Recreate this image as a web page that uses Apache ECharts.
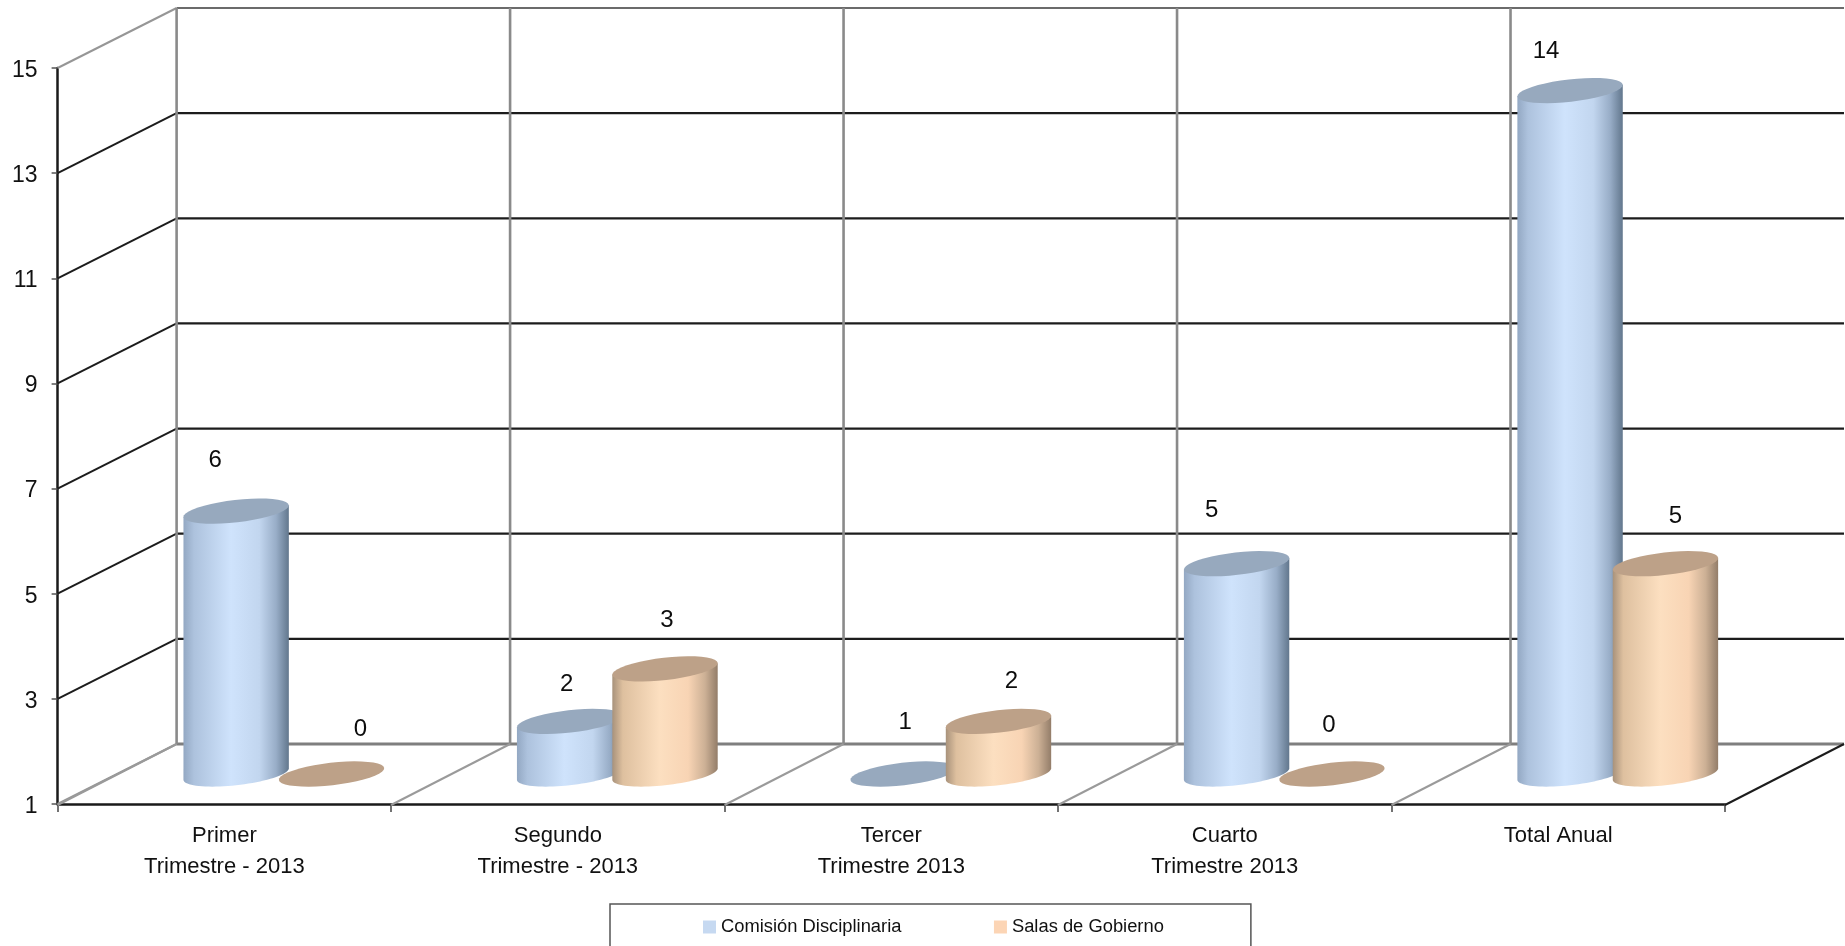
<!DOCTYPE html>
<html>
<head>
<meta charset="utf-8">
<style>html,body{margin:0;padding:0;background:#fff;overflow:hidden}#c{width:1845px;height:946px}</style>
<script src="https://cdn.jsdelivr.net/npm/echarts@6/dist/echarts.min.js"></script>
</head>
<body>
<div id="c"></div>
<script>
const categories = ['Primer\nTrimestre - 2013', 'Segundo\nTrimestre - 2013', 'Tercer\nTrimestre 2013', 'Cuarto\nTrimestre 2013', 'Total Anual'];
const comision = [6, 2, 1, 5, 14];
const salas = [0, 3, 2, 0, 5];
const yTicks = [1, 3, 5, 7, 9, 11, 13, 15];

// Presentation constants
const AXIS_MIN = 1, AXIS_MAX = 15;
const DEPTH = [119, -60];         // 3D depth of the floor in px
const BAR_FRACTION = 0.316;       // bar width / band width
const BAR_SHIFT = 0.143;          // bar centre offset / band width
const TILT = 6.5 * Math.PI / 180, MINOR = 11.2;
const FONT = '"Liberation Sans", Arial, sans-serif';
const labelNudgeA = [[-21, -51], [-3, -37], [2, -52], [-25, -53], [-24, -39]];
const labelNudgeB = [[29, -45], [2, -48], [13, -40], [-3, -49], [10, -47]];
const styleA = {
  top: '#97a9be',
  stops: [[0, '#93a8c3'], [0.1, '#adc2dd'], [0.45, '#cfe3fc'], [0.72, '#c2d6ef'], [0.88, '#98adc7'], [1, '#62778d']]
};
const styleB = {
  top: '#bda188',
  stops: [[0, '#a8927b'], [0.1, '#dec09f'], [0.45, '#fcdfc0'], [0.72, '#f8d4b4'], [0.88, '#ccb095'], [1, '#937d69']]
};

function ellipsePt(cx, cy, a, b, t) {
  return [
    cx + a * Math.cos(t) * Math.cos(TILT) + b * Math.sin(t) * Math.sin(TILT),
    cy - a * Math.cos(t) * Math.sin(TILT) + b * Math.sin(t) * Math.cos(TILT)
  ];
}
function arc(cx, cy, a, b, t0, t1) {
  const pts = [];
  for (let i = 0; i <= 40; i++) pts.push(ellipsePt(cx, cy, a, b, t0 + (t1 - t0) * i / 40));
  return pts;
}

function cylinder(sign, style, nudges) {
  return function (params, api) {
    const idx = api.value(0), v = api.value(1);
    const band = api.size([1, 0])[0];
    const base = api.coord([idx, AXIS_MIN]);
    const top = api.coord([idx, Math.max(v, AXIS_MIN)]);
    const cx = base[0] + sign * band * BAR_SHIFT + DEPTH[0] / 2;
    const cyB = base[1] + DEPTH[1] / 2;
    const cyT = top[1] + DEPTH[1] / 2;
    const halfW = band * BAR_FRACTION / 2;
    const a = Math.sqrt(Math.max(1, halfW * halfW - Math.pow(MINOR * Math.sin(TILT), 2))) / Math.cos(TILT);
    const t0 = Math.atan((MINOR / a) * Math.tan(TILT));
    const children = [];
    if (cyB - cyT > 0.5) {
      const lower = arc(cx, cyB, a, MINOR, t0, t0 + Math.PI);
      const leftTop = ellipsePt(cx, cyT, a, MINOR, t0 + Math.PI);
      const rightTop = ellipsePt(cx, cyT, a, MINOR, t0);
      children.push({
        type: 'polygon',
        shape: { points: lower.concat([leftTop, rightTop]) },
        style: {
          fill: {
            type: 'linear', x: 0, y: 0, x2: 1, y2: 0,
            colorStops: style.stops.map(s => ({ offset: s[0], color: s[1] }))
          }
        }
      });
    }
    children.push({
      type: 'polygon',
      shape: { points: arc(cx, cyT, a, MINOR, 0, Math.PI * 2) },
      style: { fill: style.top }
    });
    const n = nudges[idx];
    children.push({
      type: 'text',
      style: {
        text: String(v), x: cx + n[0], y: cyT + n[1],
        fill: '#0d0d0d', font: '24px ' + FONT, align: 'center', verticalAlign: 'middle'
      }
    });
    return { type: 'group', children };
  };
}

function wallHorizontal(params, api) {
  const v = api.value(1);
  const band = api.size([1, 0])[0];
  const c0 = api.coord([0, v]), c1 = api.coord([categories.length - 1, v]);
  const x0 = c0[0] - band / 2, x1 = c1[0] + band / 2, y = c0[1];
  const isFloor = v === AXIS_MIN, isTop = v === AXIS_MAX;
  const back = isFloor ? { stroke: '#7f7f7f', lineWidth: 3 } : isTop ? { stroke: '#6b6b6b', lineWidth: 2 } : { stroke: '#1c1c1c', lineWidth: 2.2 };
  const side = isFloor || isTop ? { stroke: '#969696', lineWidth: 2 } : { stroke: '#1c1c1c', lineWidth: 2 };
  const children = [
    { type: 'line', shape: { x1: x0 + DEPTH[0], y1: y + DEPTH[1], x2: x1 + DEPTH[0], y2: y + DEPTH[1] }, style: back },
    { type: 'line', shape: { x1: x0, y1: y, x2: x0 + DEPTH[0], y2: y + DEPTH[1] }, style: side }
  ];
  return { type: 'group', children };
}

function wallVertical(params, api) {
  const i = api.value(0);
  const band = api.size([1, 0])[0];
  const bottom = api.coord([i, AXIS_MIN]), top = api.coord([i, AXIS_MAX]);
  const x = bottom[0] - band / 2;
  const children = [
    { type: 'line', shape: { x1: x + DEPTH[0], y1: bottom[1] + DEPTH[1], x2: x + DEPTH[0], y2: top[1] + DEPTH[1] }, style: { stroke: '#8a8a8a', lineWidth: 2.6 } },
    { type: 'line', shape: { x1: x, y1: bottom[1] + 1, x2: x + DEPTH[0], y2: bottom[1] + DEPTH[1] }, style: { stroke: '#9a9a9a', lineWidth: 2 } }
  ];
  if (i === categories.length - 1) {
    children.push({ type: 'line', shape: { x1: x + band, y1: bottom[1] + 1, x2: x + band + DEPTH[0], y2: bottom[1] + DEPTH[1] }, style: { stroke: '#1c1c1c', lineWidth: 2 } });
  }
  return { type: 'group', children };
}

const chart = echarts.init(document.getElementById('c'), null, { renderer: 'canvas' });
chart.setOption({
  animation: false,
  backgroundColor: '#fff',
  grid: { left: 57.6, right: 120, top: 68, bottom: 142, containLabel: false },
  xAxis: {
    type: 'category',
    data: categories,
    boundaryGap: true,
    axisLine: { onZero: false, lineStyle: { color: '#1a1a1a', width: 2.5 } },
    axisTick: { show: true, alignWithLabel: false, length: 8, lineStyle: { color: '#444', width: 1.5 } },
    axisLabel: { interval: 0, color: '#111', fontFamily: FONT, fontSize: 22, lineHeight: 30.5, margin: 17 },
    splitLine: { show: false }
  },
  yAxis: {
    type: 'value',
    min: AXIS_MIN,
    max: AXIS_MAX,
    interval: 2,
    axisLine: { show: true, onZero: false, lineStyle: { color: '#1a1a1a', width: 2.5 } },
    axisTick: { show: true, length: 6, lineStyle: { color: '#555', width: 1.5 } },
    axisLabel: {
      color: '#111', fontFamily: FONT, fontSize: 23, margin: 20,
      formatter: '{a|{value}}',
      rich: { a: { color: '#111', fontFamily: FONT, fontSize: 23, padding: [5, 0, 0, 0] } }
    },
    splitLine: { show: false }
  },
  legend: {
    data: ['Comisión Disciplinaria', 'Salas de Gobierno'],
    left: 610,
    top: 904,
    orient: 'horizontal',
    icon: 'rect',
    itemWidth: 13,
    itemHeight: 13,
    itemGap: 92.5,
    padding: [14, 87, 60, 93],
    borderColor: '#555',
    borderWidth: 1.5,
    textStyle: { color: '#111', fontFamily: FONT, fontSize: 18.35 }
  },
  series: [
    { type: 'custom', name: 'walls-h', silent: true, z: 1, clip: false, renderItem: wallHorizontal,
      data: yTicks.map(v => [0, v]), encode: { x: 0, y: 1 } },
    { type: 'custom', name: 'walls-v', silent: true, z: 1, clip: false, renderItem: wallVertical,
      data: categories.map((c, i) => [i, AXIS_MIN]), encode: { x: 0, y: 1 } },
    { type: 'custom', name: 'Comisión Disciplinaria', z: 3, clip: false, itemStyle: { color: '#c6d9f1' },
      renderItem: cylinder(-1, styleA, labelNudgeA),
      data: comision.map((v, i) => [i, v]), encode: { x: 0, y: 1 } },
    { type: 'custom', name: 'Salas de Gobierno', z: 4, clip: false, itemStyle: { color: '#fcd5b5' },
      renderItem: cylinder(1, styleB, labelNudgeB),
      data: salas.map((v, i) => [i, v]), encode: { x: 0, y: 1 } }
  ]
});
</script>
</body>
</html>
